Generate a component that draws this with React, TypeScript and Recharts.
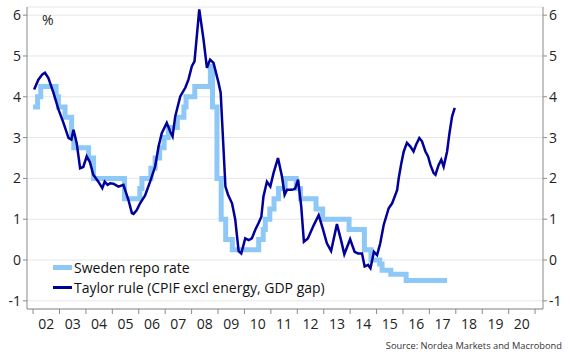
import React from "react";
import {
  LineChart,
  Line,
  XAxis,
  YAxis,
  CartesianGrid,
} from "recharts";

// x-axis: decimal years, tick every Jan 1st, label sits mid-year
const yearTicks = [
  2002, 2003, 2004, 2005, 2006, 2007, 2008, 2009, 2010, 2011, 2012, 2013,
  2014, 2015, 2016, 2017, 2018, 2019, 2020, 2021,
];
const yearLabels = [
  "02", "03", "04", "05", "06", "07", "08", "09", "10", "11",
  "12", "13", "14", "15", "16", "17", "18", "19", "20", "",
];
const valueTicks = [-1, 0, 1, 2, 3, 4, 5, 6];

// repo rate, value from each change date (step)
const repoDates = [
  2002.0, 2002.17, 2002.29, 2002.87, 2002.96, 2003.21, 2003.46, 2003.54,
  2004.1, 2004.29, 2005.46, 2006.04, 2006.12, 2006.46, 2006.62, 2006.79,
  2006.96, 2007.12, 2007.46, 2007.71, 2007.79, 2008.12, 2008.71, 2008.79,
  2008.96, 2009.12, 2009.29, 2009.54, 2010.54, 2010.71, 2010.79, 2010.96,
  2011.12, 2011.29, 2011.54, 2011.96, 2012.12, 2012.71, 2012.96, 2013.96,
  2014.54, 2014.79, 2015.12, 2015.21, 2015.54, 2016.12, 2017.67,
];
const repoValues = [
  3.75, 4.0, 4.25, 4.0, 3.75, 3.5, 3.0, 2.75,
  2.5, 2.0, 1.5, 1.75, 2.0, 2.25, 2.5, 2.75,
  3.0, 3.25, 3.5, 3.75, 4.0, 4.25, 4.75, 3.75,
  2.0, 1.0, 0.5, 0.25, 0.5, 0.75, 1.0, 1.25,
  1.5, 1.75, 2.0, 1.75, 1.5, 1.25, 1.0, 0.75,
  0.25, 0.0, -0.1, -0.25, -0.35, -0.5, -0.5,
];

// Taylor rule (CPIF excl energy, GDP gap)
const taylorDates = [
  2002.04, 2002.2, 2002.35, 2002.45, 2002.58, 2002.77, 2002.96, 2003.15,
  2003.34, 2003.45, 2003.53, 2003.65, 2003.78, 2003.9, 2004.03, 2004.15,
  2004.28, 2004.47, 2004.62, 2004.71, 2004.82, 2004.92, 2005.04, 2005.23,
  2005.42, 2005.61, 2005.74, 2005.8, 2005.92, 2006.05, 2006.24, 2006.43,
  2006.62, 2006.75, 2006.87, 2007.06, 2007.19, 2007.28, 2007.38, 2007.57,
  2007.76, 2007.88, 2008.01, 2008.11, 2008.29, 2008.45, 2008.58, 2008.7,
  2008.83, 2009.02, 2009.1, 2009.28, 2009.38, 2009.53, 2009.65, 2009.78,
  2009.88, 2010.03, 2010.16, 2010.28, 2010.41, 2010.53, 2010.64, 2010.72,
  2010.85, 2010.98, 2011.1, 2011.27, 2011.42, 2011.52, 2011.61, 2011.8,
  2011.92, 2012.03, 2012.15, 2012.25, 2012.4, 2012.62, 2012.81, 2012.96,
  2013.12, 2013.28, 2013.5, 2013.67, 2013.78, 2014.0, 2014.17, 2014.3,
  2014.45, 2014.55, 2014.68, 2014.77, 2014.9, 2015.02, 2015.14, 2015.27,
  2015.46, 2015.59, 2015.69, 2015.78, 2015.84, 2015.94, 2016.03, 2016.15,
  2016.28, 2016.4, 2016.5, 2016.62, 2016.72, 2016.85, 2016.95, 2017.04,
  2017.16, 2017.23, 2017.35, 2017.45, 2017.54, 2017.67, 2017.76, 2017.86,
  2017.96,
];
const taylorValues = [
  4.18, 4.42, 4.55, 4.59, 4.46, 4.1, 3.69, 3.36,
  2.99, 2.95, 3.19, 2.87, 2.25, 2.28, 2.54, 2.4,
  2.09, 1.92, 1.76, 1.92, 1.84, 1.88, 1.87, 1.8,
  1.84, 1.47, 1.15, 1.13, 1.22, 1.39, 1.58, 1.92,
  2.29, 2.78, 3.11, 3.36, 3.15, 3.03, 3.52, 4.01,
  4.22, 4.42, 4.75, 4.87, 6.14, 5.41, 4.71, 4.91,
  4.83, 4.34, 4.1, 1.8, 1.6, 1.39, 1.0, 0.22,
  0.16, 0.53, 0.49, 0.53, 0.74, 0.9, 1.06, 1.56,
  1.92, 1.8, 2.13, 2.5, 2.05, 1.6, 1.72, 1.72,
  1.75, 1.97, 1.31, 0.45, 0.53, 0.85, 1.1, 0.78,
  0.41, 0.22, 0.88, 0.45, 0.14, 0.51, 0.2, 0.16,
  0.16, -0.16, -0.12, -0.2, 0.2, 0.12, 0.41, 0.86,
  1.27, 1.39, 1.56, 1.72, 2.01, 2.38, 2.66, 2.87,
  2.78, 2.66, 2.83, 2.99, 2.91, 2.66, 2.54, 2.33,
  2.13, 2.09, 2.33, 2.46, 2.29, 2.66, 3.11, 3.52,
  3.73,
];

const repoData = repoDates.map((t, i) => ({ t, v: repoValues[i] }));
const taylorData = taylorDates.map((t, i) => ({ t, v: taylorValues[i] }));

const LIGHT = "#8ec8f6";
const DARK = "#00009a";
const FONT = "'Open Sans', 'Noto Sans', sans-serif";
const tickStyle = { fontSize: 14, fill: "#222", fontFamily: FONT };

const legendItems = [
  { label: "Sweden repo rate", color: LIGHT, thick: 5 },
  { label: "Taylor rule (CPIF excl energy, GDP gap)", color: DARK, thick: 3 },
];

const YearTick = (props: any) => {
  const { x, y, payload } = props;
  const label = yearLabels[yearTicks.indexOf(payload.value)] ?? "";
  return (
    <text x={x + 13.2} y={y + 13} textAnchor="middle" {...tickStyle}>
      {label}
    </text>
  );
};

export default function App() {
  return (
    <div
      style={{
        position: "absolute",
        left: 0,
        top: 0,
        width: 570,
        height: 360,
        background: "white",
      }}
    >
      <LineChart
        width={570}
        height={360}
        margin={{ top: 7, right: 0, bottom: 21, left: 0 }}
      >
        <CartesianGrid vertical={false} stroke="#e6e6e6" yAxisId="left" />
        <XAxis
          dataKey="t"
          type="number"
          domain={[2001.77, 2021.3]}
          ticks={yearTicks}
          interval={0}
          allowDataOverflow
          height={30}
          stroke="#8a8a8a"
          tickSize={5}
          tick={<YearTick />}
        />
        <YAxis
          yAxisId="left"
          domain={[-1.2, 6.2]}
          ticks={valueTicks}
          interval={0}
          width={27}
          stroke="#8a8a8a"
          tickSize={4}
          tick={tickStyle}
          allowDataOverflow
        />
        <YAxis
          yAxisId="right"
          orientation="right"
          domain={[-1.2, 6.2]}
          ticks={valueTicks}
          interval={0}
          width={27}
          stroke="#8a8a8a"
          tickSize={4}
          tick={tickStyle}
          allowDataOverflow
        />
        <Line
          yAxisId="left"
          data={repoData}
          dataKey="v"
          name="Sweden repo rate"
          type="stepAfter"
          stroke={LIGHT}
          strokeWidth={5}
          dot={false}
          isAnimationActive={false}
        />
        <Line
          yAxisId="right"
          data={taylorData}
          dataKey="v"
          name="Taylor rule (CPIF excl energy, GDP gap)"
          type="linear"
          stroke={DARK}
          strokeWidth={2.5}
          dot={false}
          isAnimationActive={false}
        />
      </LineChart>
      <div
        style={{
          position: "absolute",
          left: 53,
          top: 257,
          fontFamily: FONT,
          fontSize: 14,
          color: "#111",
        }}
      >
        {legendItems.map((it) => (
          <div
            key={it.label}
            style={{ display: "flex", alignItems: "center", height: 20 }}
          >
            <span
              style={{
                display: "inline-block",
                width: 19,
                height: it.thick,
                background: it.color,
                marginRight: 2,
              }}
            />
            {it.label}
          </div>
        ))}
      </div>
      <div
        style={{
          position: "absolute",
          left: 42,
          top: 10,
          fontFamily: FONT,
          fontSize: 14,
          color: "#222",
        }}
      >
        %
      </div>
      <div
        style={{
          position: "absolute",
          right: 8,
          top: 339,
          fontFamily: FONT,
          fontSize: 9.3,
          color: "#333",
        }}
      >
        Source: Nordea Markets and Macrobond
      </div>
    </div>
  );
}
